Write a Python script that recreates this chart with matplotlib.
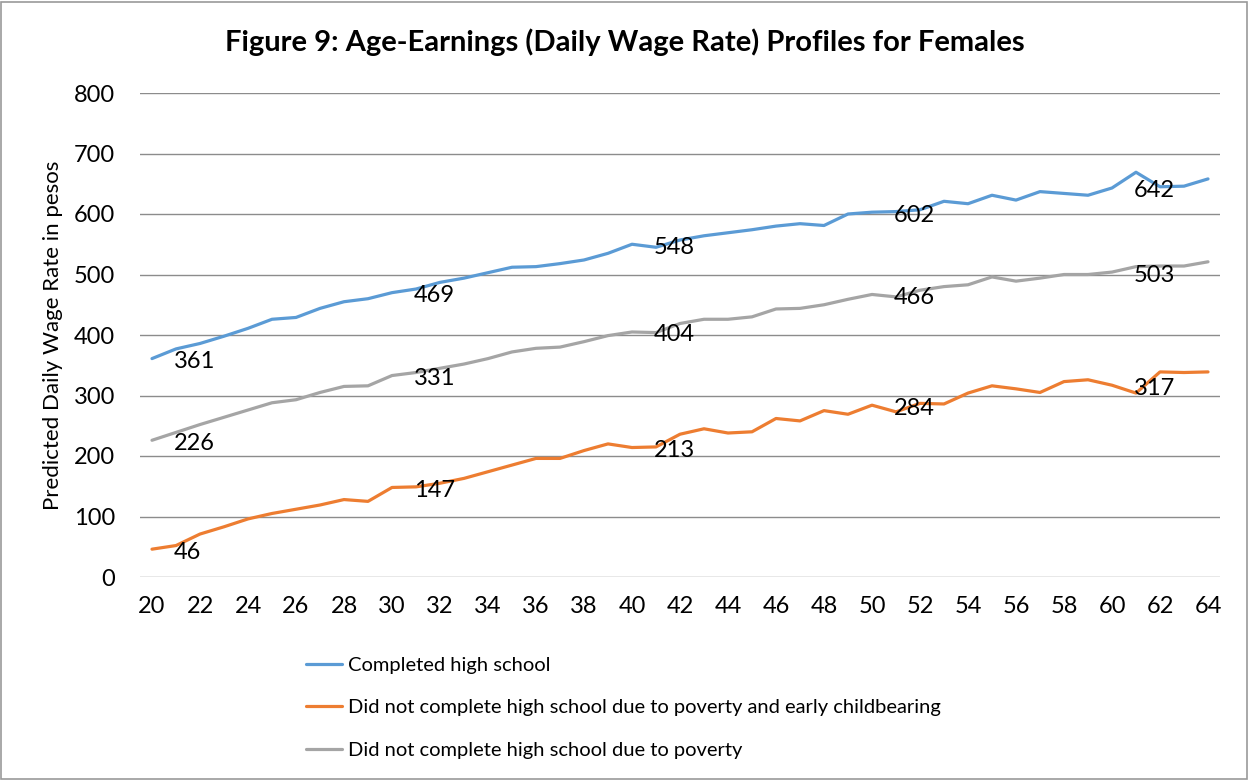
"""Age-earnings (daily wage rate) profiles for females, redrawn from the report figure."""
import matplotlib
matplotlib.use("Agg")
import matplotlib.pyplot as plt
from matplotlib.patches import Rectangle

plt.rcParams["font.family"] = ["Lato", "DejaVu Sans"]

ages = list(range(20, 65))

completed_hs = [361, 377, 386, 398, 411, 426, 429, 444, 455, 460,
                470, 476, 487, 494, 503, 512, 513, 518, 524, 535,
                550, 545, 557, 564, 569, 574, 580, 584, 581, 600,
                603, 604, 607, 621, 617, 631, 623, 637, 634, 631,
                643, 669, 645, 646, 658]
poverty_childbearing = [46, 52, 71, 83, 96, 105, 112, 119, 128, 125,
                        148, 149, 155, 163, 174, 185, 196, 196, 209, 220,
                        214, 215, 236, 245, 238, 240, 262, 258, 275, 269,
                        284, 273, 287, 286, 304, 316, 311, 305, 323, 326,
                        317, 304, 339, 338, 339]
poverty_only = [226, 239, 252, 264, 276, 288, 293, 305, 315, 316,
                333, 338, 345, 352, 361, 372, 378, 380, 389, 399,
                405, 404, 419, 426, 426, 430, 443, 444, 450, 459,
                467, 463, 474, 480, 483, 496, 489, 494, 500, 500,
                504, 513, 514, 514, 521]

# data labels shown every ten years
label_ages = [20, 30, 40, 50, 60]
label_completed = [361, 469, 548, 602, 642]
label_childbearing = [46, 147, 213, 284, 317]
label_poverty = [226, 331, 404, 466, 503]

series = [
    ("Completed high school", completed_hs, label_completed, "#5B9BD5"),
    ("Did not complete high school due to poverty and early childbearing",
     poverty_childbearing, label_childbearing, "#ED7D31"),
    ("Did not complete high school due to poverty", poverty_only, label_poverty, "#A5A5A5"),
]

fig = plt.figure(figsize=(12.49, 7.8), dpi=100)
ax = fig.add_axes([140 / 1249, 1 - 577 / 780, 1080 / 1249, 484 / 780])

handles = []
for name, values, labels, color in series:
    line, = ax.plot(ages, values, color=color, linewidth=2.3, label=name,
                    solid_capstyle="round", zorder=3)
    handles.append(line)
    for age, value in zip(label_ages, labels):
        y = values[ages.index(age)]
        ax.annotate(str(value), (age, y), xytext=(22, -3), textcoords="offset pixels",
                    ha="left", va="center", fontsize=17, color="black", zorder=4)

ax.set_xlim(19.5, 64.5)
ax.set_ylim(0, 800)
ax.set_yticks(range(0, 801, 100))
ax.set_xticks(ages[::2])
ax.tick_params(length=0, labelsize=17)
ax.tick_params(axis="y", pad=18)
ax.tick_params(axis="x", pad=14)
ax.grid(axis="y", color="#8c8c8c", linewidth=1)
ax.set_axisbelow(True)
for side in ["top", "right", "left", "bottom"]:
    ax.spines[side].set_visible(False)
ax.set_ylabel("Predicted Daily Wage Rate in pesos", fontsize=16, labelpad=8)

fig.text(0.5, 1 - 42 / 780, "Figure 9: Age-Earnings (Daily Wage Rate) Profiles for Females",
         ha="center", va="center", fontsize=21, fontweight="bold")

fig.legend(handles=handles, loc="upper left", bbox_to_anchor=(298 / 1249, 1 - 649 / 780),
           frameon=False, fontsize=14.5, ncol=1, handlelength=1.8, handletextpad=0.3,
           labelspacing=1.25, borderaxespad=0)

fig.patches.append(Rectangle((0.001, 0.001), 0.997, 0.997, transform=fig.transFigure,
                             fill=False, edgecolor="#9a9a9a", linewidth=1.2))

fig.savefig("out.png", dpi=100)
